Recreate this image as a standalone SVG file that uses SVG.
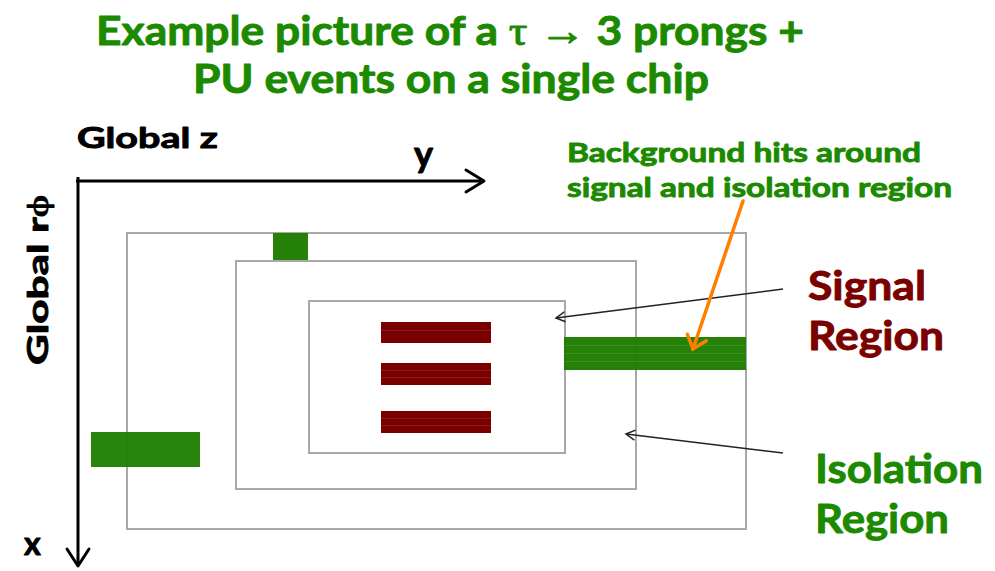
<svg xmlns="http://www.w3.org/2000/svg" width="995" height="571" viewBox="0 0 995 571">
<defs>
<style>
.t{font-family:Lato,"Open Sans","DejaVu Sans",sans-serif;font-weight:bold;stroke-width:0.9;stroke-linejoin:round}
.s{font-family:"Liberation Serif","DejaVu Serif",serif;font-weight:normal}
.g{fill:#1c8a00;stroke:#1c8a00}
.r{fill:#7b0000;stroke:#7b0000}
.k{fill:#000;stroke:#000}
.box{fill:none;stroke:#a8a8a8;stroke-width:2}
.hitg{fill:#1e7d00}
.hitr{fill:#7a0000}
.stripe{stroke:#ffffff;stroke-opacity:0.1;stroke-width:1}
.ax{stroke:#000;stroke-width:3;fill:none}
.ptr{stroke:#222;stroke-width:1.5;fill:none}
</style>
<marker id="ah" markerWidth="12" markerHeight="12" refX="10" refY="6" orient="auto" markerUnits="userSpaceOnUse">
<path d="M1,1 L10,6 L1,11" fill="none" stroke="#222" stroke-width="1.5"/>
</marker>
<marker id="aho" markerWidth="30" markerHeight="30" refX="15" refY="15" orient="auto" markerUnits="userSpaceOnUse">
<path d="M3,5 L15,15 L3,25" fill="none" stroke="#ff7f00" stroke-width="3.5" stroke-linecap="round"/>
</marker>
</defs>
<rect width="995" height="571" fill="#fff"/>
<g id="title">
<text class="t g" x="450" y="45" font-size="40" text-anchor="middle" textLength="708" lengthAdjust="spacingAndGlyphs">Example picture of a <tspan class="s" font-size="42">τ →</tspan> 3 prongs +</text>
<text class="t g" x="451" y="93" font-size="40" text-anchor="middle" textLength="516" lengthAdjust="spacingAndGlyphs">PU events on a single chip</text>
</g>
<g id="axes">
<path class="ax" d="M76,181 H484"/>
<path class="ax" d="M466,170 L484,181 L466,192" stroke-linecap="round" stroke-linejoin="round"/>
<path class="ax" d="M78,177 V566"/>
<path class="ax" d="M67,549 L78,566 L89,549" stroke-linecap="round" stroke-linejoin="round"/>
<text class="t k" x="77" y="148" font-size="29" textLength="141" lengthAdjust="spacingAndGlyphs">Global z</text>
<text class="t k" x="414" y="167" font-size="36">y</text>
<text class="t k" x="0" y="0" font-size="29" transform="translate(48,365) rotate(-90)" textLength="170" lengthAdjust="spacingAndGlyphs">Global r<tspan class="s" font-weight="bold">ϕ</tspan></text>
<text class="t k" x="24" y="555" font-size="32">x</text>
</g>
<g id="outer-region"><rect class="box" x="127" y="233" width="619" height="296"/></g>
<g id="isolation-region"><rect class="box" x="236" y="261" width="400" height="228"/></g>
<g id="signal-region"><rect class="box" x="309" y="301" width="256" height="152"/></g>
<g id="bg-hit-top"><rect class="hitg" x="273" y="233" width="35" height="27" opacity="0.97"/></g>
<g id="bg-hit-right">
<rect class="hitg" x="564" y="337" width="182" height="33" opacity="0.97"/>
<path class="stripe" d="M564,345.5 H746 M564,353.5 H746 M564,361.5 H746"/>
</g>
<g id="bg-hit-left"><rect class="hitg" x="91" y="432" width="109" height="35" opacity="0.95"/></g>
<g id="signal-hits">
<rect class="hitr" x="381" y="322" width="110" height="21"/>
<path class="stripe" d="M381,330.5 H491"/>
<rect class="hitr" x="381" y="363" width="110" height="22"/>
<path class="stripe" d="M381,370.5 H491 M381,377.5 H491"/>
<rect class="hitr" x="381" y="411" width="110" height="22"/>
<path class="stripe" d="M381,418.5 H491 M381,425.5 H491"/>
</g>
<g id="connectors">
<path class="ptr" d="M783,289 L556,318" marker-end="url(#ah)"/>
<path class="ptr" d="M783,453 L626,434" marker-end="url(#ah)"/>
<path d="M743,201 L693,349" stroke="#ff7f00" stroke-width="3.5" fill="none" stroke-linecap="round" marker-end="url(#aho)"/>
</g>
<g id="labels">
<text class="t g" x="567" y="162" font-size="27" textLength="354" lengthAdjust="spacingAndGlyphs">Background hits around</text>
<text class="t g" x="567" y="197" font-size="27" textLength="385" lengthAdjust="spacingAndGlyphs">signal and isolation region</text>
<text class="t r" x="808" y="300" font-size="41" textLength="118" lengthAdjust="spacingAndGlyphs">Signal</text>
<text class="t r" x="808" y="350" font-size="41" textLength="136" lengthAdjust="spacingAndGlyphs">Region</text>
<text class="t g" x="815" y="483" font-size="41" textLength="168" lengthAdjust="spacingAndGlyphs">Isolation</text>
<text class="t g" x="815" y="533" font-size="41" textLength="134" lengthAdjust="spacingAndGlyphs">Region</text>
</g>
</svg>
